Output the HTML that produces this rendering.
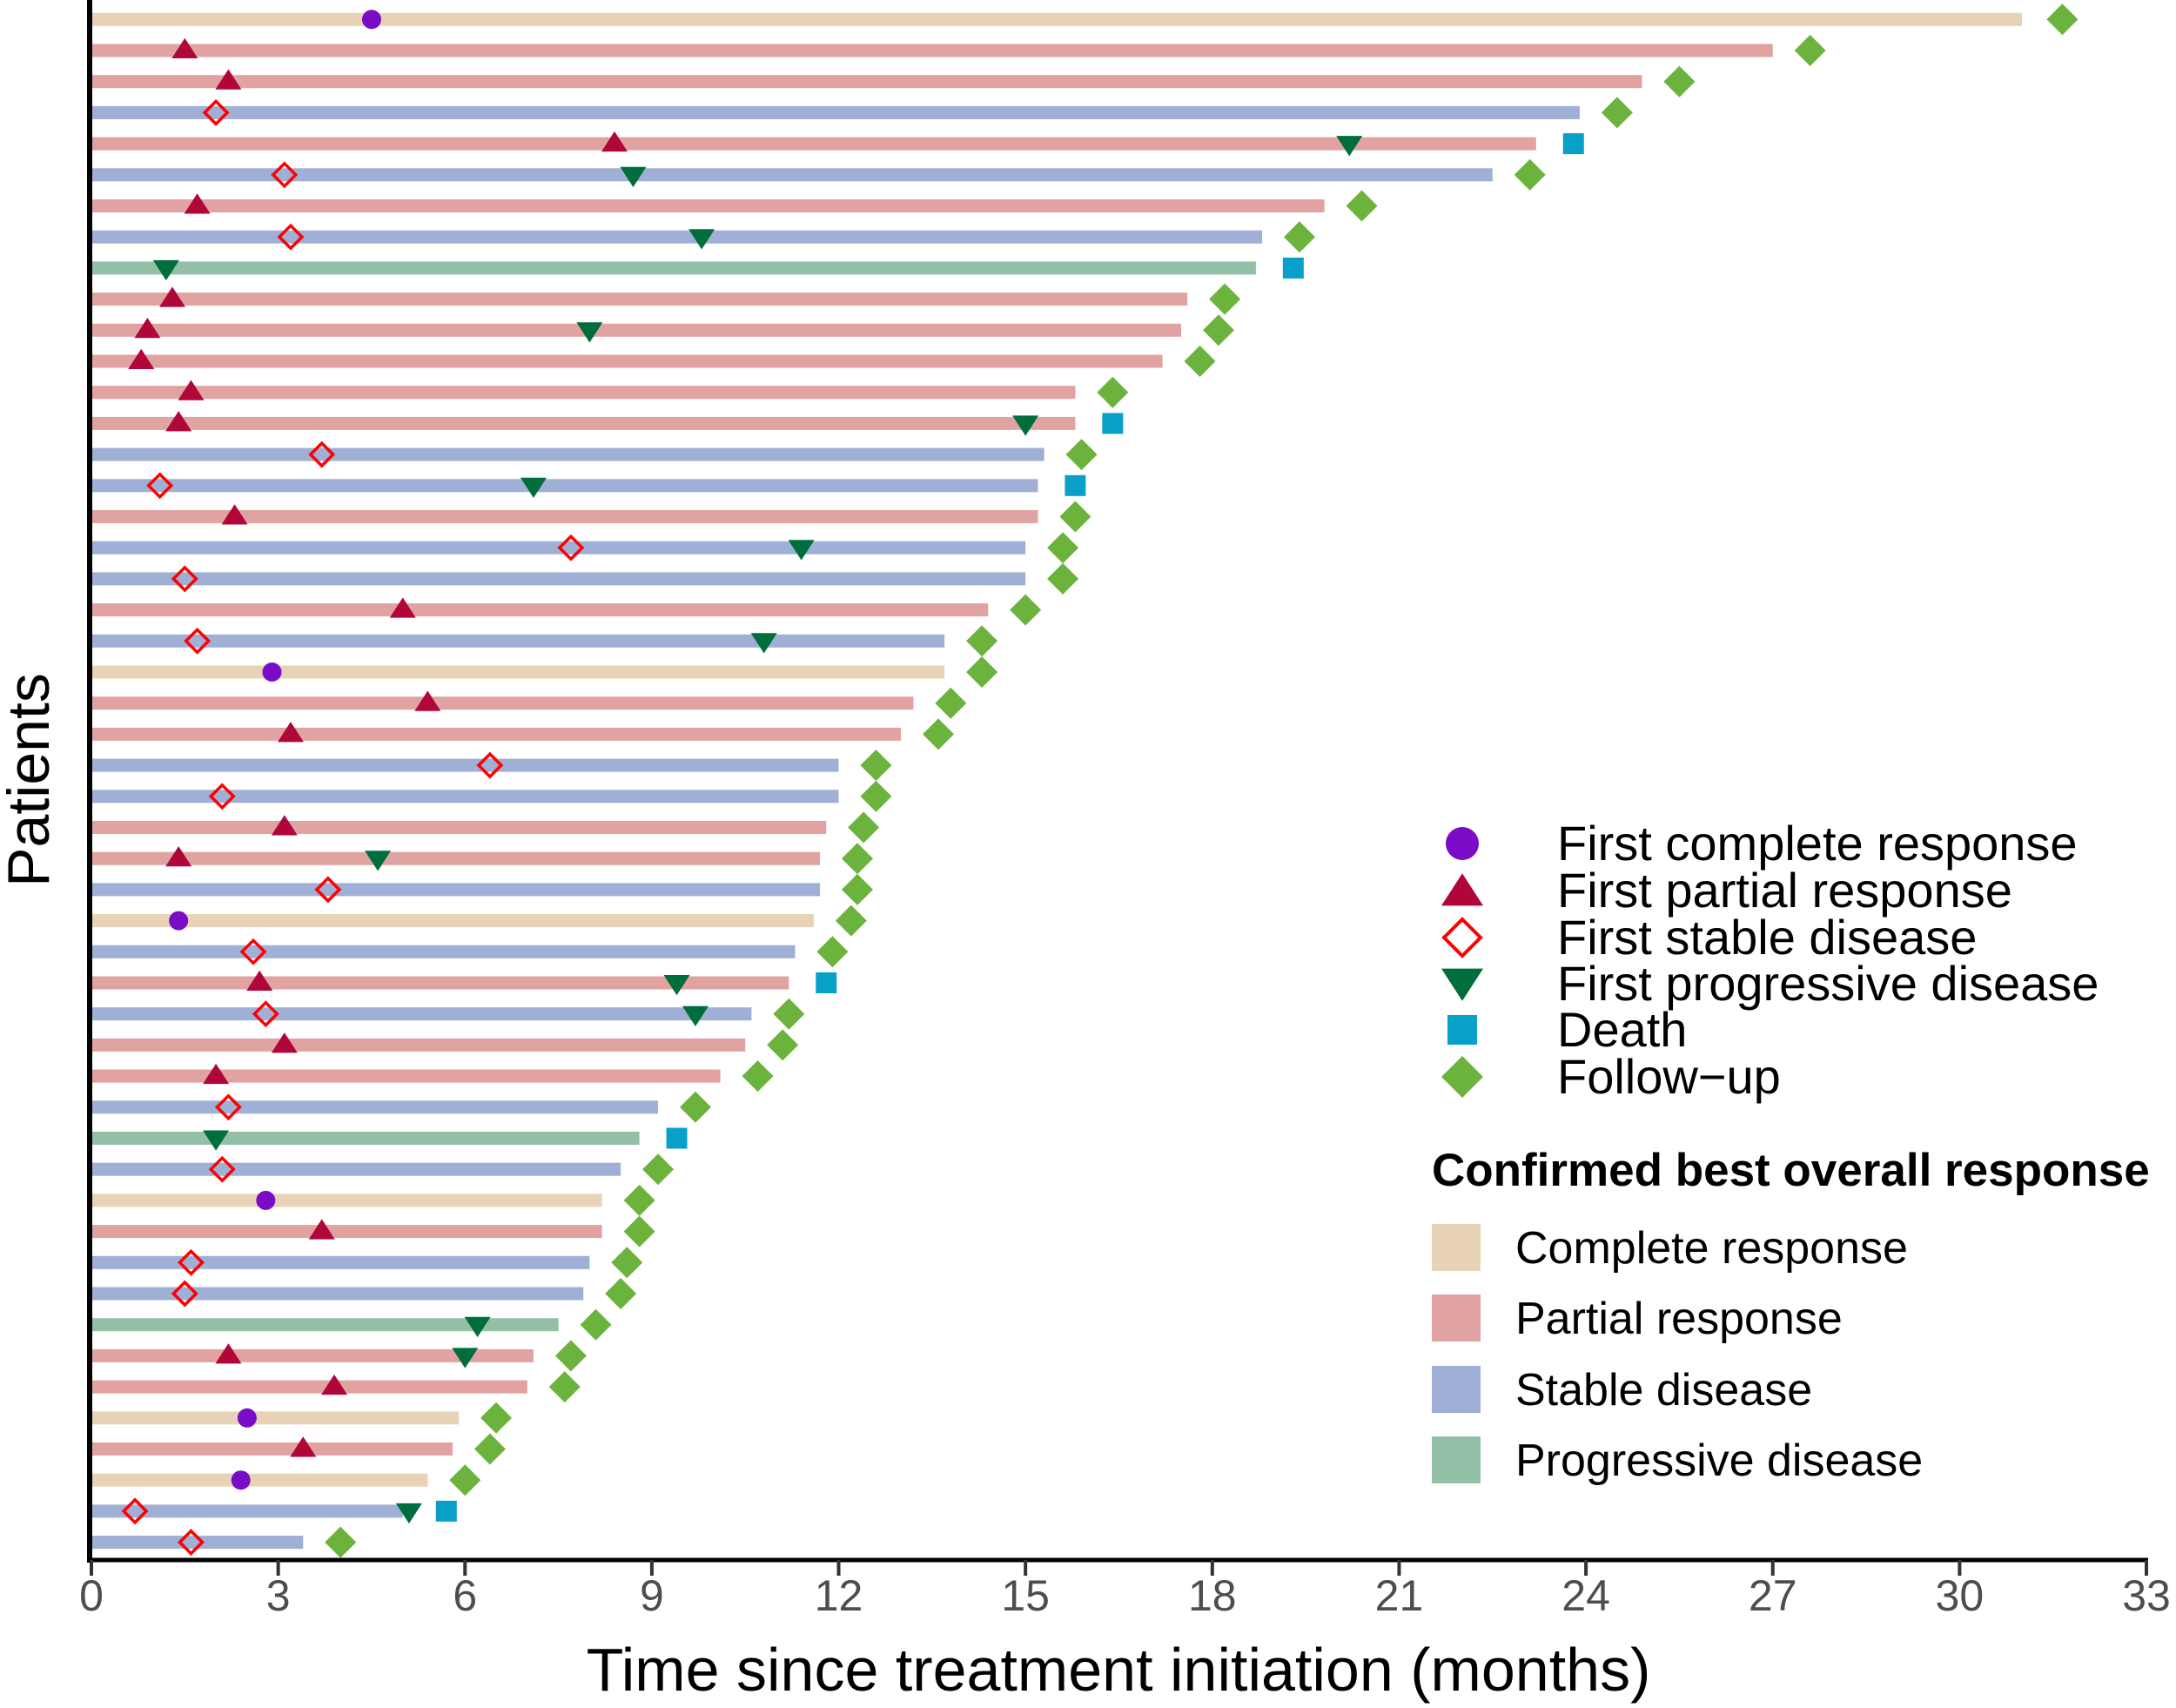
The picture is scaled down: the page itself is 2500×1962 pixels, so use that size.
<!DOCTYPE html>
<html><head><meta charset="utf-8"><style>
html,body{margin:0;padding:0;background:#fff}
svg{display:block}
text{font-family:"Liberation Sans",sans-serif}
</style></head><body>
<svg id="chart" width="2500" height="1962" viewBox="0 0 2500 1962" xmlns="http://www.w3.org/2000/svg">
<g id="bars"></g>
<g id="marks"></g>
<g id="axes"></g>
<g id="legend"></g>
</svg>
<script>
const responseTypes = ["CR","PR","PR","SD","PR","SD","PR","SD","PD","PR","PR","PR","PR","PR","SD","SD","PR","SD","SD","PR","SD","CR","PR","PR","SD","SD","PR","PR","SD","CR","SD","PR","SD","PR","PR","SD","PD","SD","CR","PR","SD","SD","PD","PR","PR","CR","PR","CR","SD","SD"];
const barEnds = [31.0,27.0,24.9,23.9,23.2,22.5,19.8,18.8,18.7,17.6,17.5,17.2,15.8,15.8,15.3,15.2,15.2,15.0,15.0,14.4,13.7,13.7,13.2,13.0,12.0,12.0,11.8,11.7,11.7,11.6,11.3,11.2,10.6,10.5,10.1,9.1,8.8,8.5,8.2,8.2,8.0,7.9,7.5,7.1,7.0,5.9,5.8,5.4,5.0,3.4];
const firstCR = [4.5,null,null,null,null,null,null,null,null,null,null,null,null,null,null,null,null,null,null,null,null,2.9,null,null,null,null,null,null,null,1.4,null,null,null,null,null,null,null,null,2.8,null,null,null,null,null,null,2.5,null,2.4,null,null];
const firstPR = [null,1.5,2.2,null,8.4,null,1.7,null,null,1.3,0.9,0.8,1.6,1.4,null,null,2.3,null,null,5.0,null,null,5.4,3.2,null,null,3.1,1.4,null,null,null,2.7,null,3.1,2.0,null,null,null,null,3.7,null,null,null,2.2,3.9,null,3.4,null,null,null];
const firstSD = [null,null,null,2.0,null,3.1,null,3.2,null,null,null,null,null,null,3.7,1.1,null,7.7,1.5,null,1.7,null,null,null,6.4,2.1,null,null,3.8,null,2.6,null,2.8,null,null,2.2,null,2.1,null,null,1.6,1.5,null,null,null,null,null,null,0.7,1.6];
const firstPD = [null,null,null,null,20.2,8.7,null,9.8,1.2,null,8.0,null,null,15.0,null,7.1,null,11.4,null,null,10.8,null,null,null,null,null,null,4.6,null,null,null,9.4,9.7,null,null,null,2.0,null,null,null,null,null,6.2,6.0,null,null,null,null,5.1,null];
const deathTimes = [null,null,null,null,23.8,null,null,null,19.3,null,null,null,null,16.4,null,15.8,null,null,null,null,null,null,null,null,null,null,null,null,null,null,null,11.8,null,null,null,null,9.4,null,null,null,null,null,null,null,null,null,null,null,5.7,null];
const followUp = [31.65,27.6,25.5,24.5,null,23.1,20.4,19.4,null,18.2,18.1,17.8,16.4,null,15.9,null,15.8,15.6,15.6,15.0,14.3,14.3,13.8,13.6,12.6,12.6,12.4,12.3,12.3,12.2,11.9,null,11.2,11.1,10.7,9.7,null,9.1,8.8,8.8,8.6,8.5,8.1,7.7,7.6,6.5,6.4,6.0,null,4.0];
const xTicks = [0,3,6,9,12,15,18,21,24,27,30,33];

const NS="http://www.w3.org/2000/svg";
const X0=105, X1=2466, XMAX=33;
const xs=v=>X0+(v/XMAX)*(X1-X0);
const ys=i=>22.3+i*35.7;
const colors={CR:"#e8d3b6",PR:"#e0a3a1",SD:"#9fafd6",PD:"#93bfa6"};
function mk(tag,attrs,parent){const e=document.createElementNS(NS,tag);for(const k in attrs)e.setAttribute(k,attrs[k]);parent.appendChild(e);return e;}
const bars=document.getElementById('bars'),marks=document.getElementById('marks'),axes=document.getElementById('axes'),legend=document.getElementById('legend');

function circle(g,x,y,r){return mk('circle',{cx:x,cy:y,r:r,fill:'#7a0bc6'},g);}
function triUp(g,x,y,s){return mk('polygon',{points:`${x},${y-s*0.95} ${x-s},${y+s*0.6} ${x+s},${y+s*0.6}`,fill:'#b0063a'},g);}
function triDown(g,x,y,s){return mk('polygon',{points:`${x},${y+s*0.95} ${x-s},${y-s*0.6} ${x+s},${y-s*0.6}`,fill:'#006d3c'},g);}
function diamOpen(g,x,y,s,w){return mk('polygon',{points:`${x},${y-s} ${x+s},${y} ${x},${y+s} ${x-s},${y}`,fill:'none',stroke:'#ff0000','stroke-width':w},g);}
function square(g,x,y,s){return mk('rect',{x:x-s,y:y-s,width:2*s,height:2*s,fill:'#08a0c8'},g);}
function diamFill(g,x,y,s){return mk('polygon',{points:`${x},${y-s} ${x+s},${y} ${x},${y+s} ${x-s},${y}`,fill:'#6cb33e'},g);}

responseTypes.forEach((t,i)=>{
  const y=ys(i);
  const r=mk('rect',{x:X0,y:y-7.5,width:xs(barEnds[i])-X0,height:15,fill:colors[t]},bars);
  
  
  let e;
  if(firstCR[i]!=null){e=circle(marks,xs(firstCR[i]),y,11);}
  if(firstPR[i]!=null){e=triUp(marks,xs(firstPR[i]),y,15);}
  if(firstSD[i]!=null){e=diamOpen(marks,xs(firstSD[i]),y,13,3.5);}
  if(firstPD[i]!=null){e=triDown(marks,xs(firstPD[i]),y,15);}
  if(deathTimes[i]!=null){e=square(marks,xs(deathTimes[i]),y,12);}
  if(followUp[i]!=null){e=diamFill(marks,xs(followUp[i]),y,18);}
});

// axes
let a=mk('line',{x1:X0-2,y1:0,x2:X0-2,y2:1795,stroke:'#000','stroke-width':6},axes);

a=mk('line',{x1:X0-5,y1:1792,x2:X1+2,y2:1792,stroke:'#000','stroke-width':5},axes);

xTicks.forEach(v=>{
  const x=xs(v);
  const tk=mk('line',{x1:x,y1:1792,x2:x,y2:1810,stroke:'#333','stroke-width':4},axes);
  
  const tl=mk('text',{x:x,y:1850,'text-anchor':'middle','font-size':50,fill:'#4d4d4d'},axes);
  tl.textContent=v;
  
});
a=mk('text',{x:1285,y:1942,'text-anchor':'middle','font-size':70,fill:'#000'},axes);
a.textContent='Time since treatment initiation (months)';

a=mk('text',{x:0,y:0,'text-anchor':'middle','font-size':68,fill:'#000',transform:'translate(56,896) rotate(-90)'},axes);
a.textContent='Patients';


// legend
const legY=[969,1023,1077,1130,1183,1237];
const legText=['First complete response','First partial response','First stable disease','First progressive disease','Death','Follow\u2212up'];
const LX=1680;
let e;
e=circle(legend,LX,legY[0],19);
e=triUp(legend,LX,legY[1]+3,24);
e=diamOpen(legend,LX,legY[2],21,4);
e=triDown(legend,LX,legY[3]-3,24);
e=square(legend,LX,legY[4],17);
e=diamFill(legend,LX,legY[5],24);
legText.forEach((t,i)=>{
  const tx=mk('text',{x:1789,y:legY[i]+19,'font-size':56,fill:'#000'},legend);
  tx.textContent=t;
  
});
e=mk('text',{x:1645,y:1362,'font-size':53,'font-weight':'bold',fill:'#000'},legend);
e.textContent='Confirmed best overall response';

const fillY=[1433,1514,1596,1677];
const fillT=['Complete response','Partial response','Stable disease','Progressive disease'];
const fillC=[colors.CR,colors.PR,colors.SD,colors.PD];
fillY.forEach((y,i)=>{
  const r=mk('rect',{x:1645,y:y-27,width:56,height:54,fill:fillC[i]},legend);
  
  const tx=mk('text',{x:1741,y:y+18,'font-size':52,fill:'#000'},legend);
  tx.textContent=fillT[i];
  
});
</script>
</body></html>
